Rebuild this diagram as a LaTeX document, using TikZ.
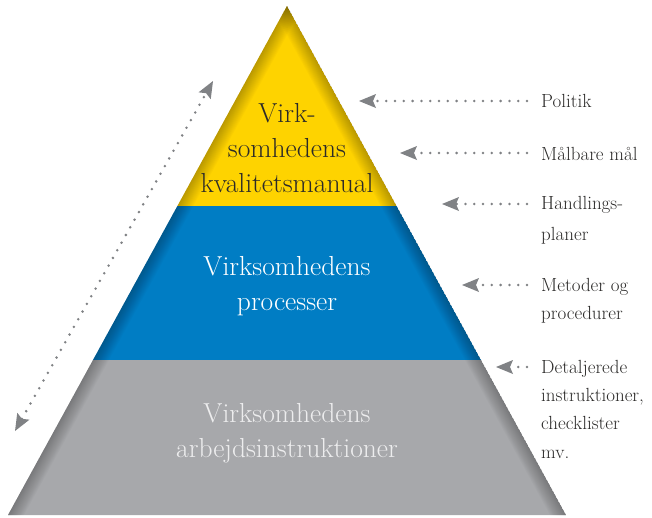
\documentclass[tikz,border=0pt]{standalone}
\usetikzlibrary{arrows.meta,calc}
\definecolor{pyellow}{HTML}{FED300}
\definecolor{pblue}{HTML}{007DC4}
\definecolor{pgray}{HTML}{A7A8AB}
\definecolor{arrgray}{HTML}{808285}
\definecolor{txtdark}{HTML}{2B2A29}
\definecolor{txtlight}{HTML}{EDEDEE}
\tikzset{
  bandtext/.style={align=center, font=\fontsize{27.5}{35}\selectfont, inner sep=0pt},
  sidetext/.style={align=left, anchor=west, font=\fontsize{19}{28.3}\selectfont, text=txtdark, inner sep=0pt},
  dotarrow/.style={draw=arrgray, line width=2.8pt, line cap=round, dash pattern=on 0pt off 8.8pt,
    -{Stealth[length=17pt,width=14pt,inset=3pt,line cap=butt,line width=0pt,fill=arrgray]}},
  dotarrows/.style={draw=arrgray, line width=2.8pt, line cap=round, dash pattern=on 0pt off 8.8pt,
    {Stealth[length=17pt,width=14pt,inset=3pt,line cap=butt,line width=0pt,fill=arrgray]}-{Stealth[length=17pt,width=14pt,inset=3pt,line cap=butt,line width=0pt,fill=arrgray]}}
}
\newcommand{\edgeshade}[2]{%
  \foreach \w in {2,4,...,28}{\draw[line width=\w pt, draw=black, draw opacity=0.02] #1 -- #2;}}
\begin{document}
\begin{tikzpicture}[x=1pt,y=-1pt]
\useasboundingbox (0,0) rectangle (652,517);
% corner points
\coordinate (A) at (287,6);
\coordinate (YL) at (177.4,206);
\coordinate (YR) at (396.6,206);
\coordinate (BL) at (93,360);
\coordinate (BR) at (481,360);
\coordinate (GL) at (8,515);
\coordinate (GR) at (566,515);
% extended edge ends for shading
\coordinate (EA) at ($(A)!-0.1!(GL)$);
\coordinate (EL) at ($(A)!1.1!(GL)$);
\coordinate (ER) at ($(A)!1.1!(GR)$);
\coordinate (EB) at ($(A)!-0.1!(GR)$);
% yellow band
\begin{scope}
  \clip (A) -- (YR) -- (YL) -- cycle;
  \fill[pyellow] (A) -- (YR) -- (YL) -- cycle;
  \edgeshade{(EA)}{(EL)}
  \edgeshade{(EB)}{(ER)}
\end{scope}
% blue band
\begin{scope}
  \clip (YL) -- (YR) -- (BR) -- (BL) -- cycle;
  \fill[pblue] (YL) -- (YR) -- (BR) -- (BL) -- cycle;
  \edgeshade{(EA)}{(EL)}
  \edgeshade{(EB)}{(ER)}
\end{scope}
% gray band
\begin{scope}
  \clip (BL) -- (BR) -- (GR) -- (GL) -- cycle;
  \fill[pgray] (BL) -- (BR) -- (GR) -- (GL) -- cycle;
  \edgeshade{(EA)}{(EL)}
  \edgeshade{(EB)}{(ER)}
\end{scope}
% band texts
\node[bandtext, text=txtdark] (ytxt) at (287,148) {Virk-\\somhedens\\kvalitetsmanual};
\node[bandtext, text=white] (btxt) at (287,286) {Virksomhedens\\processer};
\node[bandtext, text=txtlight] (gtxt) at (287,433) {Virksomhedens\\arbejdsinstruktioner};
% side labels
\node[sidetext] (l1) at (541,101) {Politik};
\node[sidetext] (l2) at (541,154) {Målbare mål};
\node[sidetext, anchor=north west, font=\fontsize{19}{31}\selectfont] (l3) at (541,196) {Handlings-\\planer};
\node[sidetext, anchor=north west] (l4) at (541,278) {Metoder og\\procedurer};
\node[sidetext, anchor=north west] (l5) at (541,360) {Detaljerede\\instruktioner,\\checklister\\mv.};
% arrow tips
\coordinate (t1) at (359,101);
\coordinate (t2) at (400,153);
\coordinate (t3) at (442,204);
\coordinate (t4) at (462,285);
\coordinate (t5) at (496,367);
\coordinate (s1) at (527,101);
\coordinate (s2) at (527,153);
\coordinate (s3) at (527,204);
\coordinate (s4) at (527,285);
\coordinate (s5) at (527,367);
\draw[dotarrow] (s1) -- (t1);
\draw[dotarrow] (s2) -- (t2);
\draw[dotarrow] (s3) -- (t3);
\draw[dotarrow] (s4) -- (t4);
\draw[dotarrow] (s5) -- (t5);
% left double arrow
\coordinate (d1) at (15,431);
\coordinate (d2) at (213,81);
\draw[dotarrows] (d1) -- (d2);
\end{tikzpicture}
\end{document}
